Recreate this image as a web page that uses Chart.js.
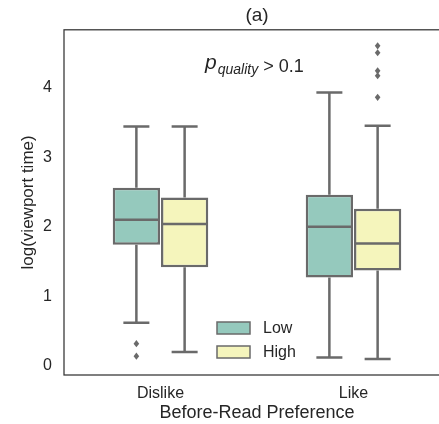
<!DOCTYPE html>
<html>
<head>
<meta charset="utf-8">
<script src="https://cdn.jsdelivr.net/npm/chart.js@4.4.0/dist/chart.umd.min.js"></script>
<style>
  html, body { margin: 0; padding: 0; overflow: hidden; background: #fff; }
  canvas { display: block; }
</style>
</head>
<body>
<canvas id="chart" width="480" height="424"></canvas>
<script>
const categories = ["Dislike", "Like"];
const groups = ["Low", "High"];
const groupColors = ["#95c9bd", "#f5f5bc"];
const edgeColor = "#6a6a6a";
const textColor = "#262626";

// box stats per category (Dislike, Like)
const lowQ1 = [1.74, 1.27];
const lowMedian = [2.10, 2.00];
const lowQ3 = [2.56, 2.46];
const lowWhiskerLow = [0.62, 0.12];
const lowWhiskerHigh = [3.44, 3.93];
const lowOutliers = [[0.32, 0.14], []];

const highQ1 = [1.42, 1.37];
const highMedian = [2.04, 1.76];
const highQ3 = [2.42, 2.26];
const highWhiskerLow = [0.20, 0.10];
const highWhiskerHigh = [3.44, 3.45];
const highOutliers = [[], [4.60, 4.50, 4.24, 4.17, 3.86]];

const yTicks = [0, 1, 2, 3, 4];
const yMin = -0.13;
const yMax = 4.83;

Chart.defaults.font.family = "'Liberation Sans', Arial, sans-serif";

const stats = [
  { q1: lowQ1, med: lowMedian, q3: lowQ3, wlo: lowWhiskerLow, whi: lowWhiskerHigh, out: lowOutliers },
  { q1: highQ1, med: highMedian, q3: highQ3, wlo: highWhiskerLow, whi: highWhiskerHigh, out: highOutliers },
];

const boxExtras = {
  id: "boxExtras",
  afterDatasetsDraw(chart) {
    const ctx = chart.ctx;
    const y = chart.scales.y;
    ctx.save();
    ctx.strokeStyle = edgeColor;
    ctx.fillStyle = edgeColor;
    ctx.lineWidth = 2.5;
    stats.forEach((s, di) => {
      const meta = chart.getDatasetMeta(di);
      meta.data.forEach((bar, i) => {
        const x = bar.x;
        const w = bar.width;
        const cap = w * 0.55;
        ctx.beginPath();
        // whiskers
        ctx.moveTo(x, y.getPixelForValue(s.q3[i]));
        ctx.lineTo(x, y.getPixelForValue(s.whi[i]));
        ctx.moveTo(x, y.getPixelForValue(s.q1[i]));
        ctx.lineTo(x, y.getPixelForValue(s.wlo[i]));
        // caps
        ctx.moveTo(x - cap / 2, y.getPixelForValue(s.whi[i]));
        ctx.lineTo(x + cap / 2, y.getPixelForValue(s.whi[i]));
        ctx.moveTo(x - cap / 2, y.getPixelForValue(s.wlo[i]));
        ctx.lineTo(x + cap / 2, y.getPixelForValue(s.wlo[i]));
        // median
        ctx.moveTo(x - w / 2 + 1, y.getPixelForValue(s.med[i]));
        ctx.lineTo(x + w / 2 - 1, y.getPixelForValue(s.med[i]));
        ctx.stroke();
        // fliers (thin diamonds)
        s.out[i].forEach(v => {
          const py = y.getPixelForValue(v);
          ctx.beginPath();
          ctx.moveTo(x, py - 3.6);
          ctx.lineTo(x + 2.8, py);
          ctx.lineTo(x, py + 3.6);
          ctx.lineTo(x - 2.8, py);
          ctx.closePath();
          ctx.fill();
        });
      });
    });
    ctx.restore();
  },
  afterDraw(chart) {
    const ctx = chart.ctx;
    const a = chart.chartArea;
    ctx.save();
    // frame
    ctx.strokeStyle = "#333";
    ctx.lineWidth = 1.25;
    ctx.strokeRect(a.left, a.top, a.right - a.left, a.bottom - a.top);

    // annotation
    ctx.fillStyle = textColor;
    ctx.textBaseline = "alphabetic";
    let tx = 205;
    ctx.font = "italic 21px 'Liberation Sans', Arial, sans-serif";
    ctx.fillText("p", tx, 69);
    tx += ctx.measureText("p").width + 1;
    ctx.font = "italic 14px 'Liberation Sans', Arial, sans-serif";
    ctx.fillText("quality", tx, 74);
    tx += ctx.measureText("quality").width + 5;
    ctx.font = "18px 'Liberation Sans', Arial, sans-serif";
    ctx.fillText("> 0.1", tx, 72);

    // legend
    const items = [{ label: groups[0], color: groupColors[0], y: 322 }, { label: groups[1], color: groupColors[1], y: 346 }];
    ctx.font = "16px 'Liberation Sans', Arial, sans-serif";
    ctx.textBaseline = "middle";
    items.forEach(it => {
      ctx.fillStyle = it.color;
      ctx.fillRect(217, it.y, 33, 12);
      ctx.strokeStyle = edgeColor;
      ctx.lineWidth = 1.5;
      ctx.strokeRect(217, it.y, 33, 12);
      ctx.fillStyle = textColor;
      ctx.fillText(it.label, 263, it.y + 6.5);
    });
    ctx.restore();
  },
};

new Chart(document.getElementById("chart"), {
  type: "bar",
  plugins: [boxExtras],
  data: {
    labels: categories,
    datasets: groups.map((g, di) => ({
      label: g,
      data: categories.map((c, i) => [stats[di].q1[i], stats[di].q3[i]]),
      backgroundColor: groupColors[di],
      borderColor: edgeColor,
      borderWidth: 2.5,
      borderSkipped: false,
      categoryPercentage: 0.5,
      barPercentage: 0.98,
    })),
  },
  options: {
    responsive: false,
    animation: false,
    layout: { padding: { right: 30 } },
    plugins: {
      legend: { display: false },
      tooltip: { enabled: false },
      title: {
        display: true,
        text: "(a)",
        fullSize: false,
        color: textColor,
        font: { size: 19, weight: "normal" },
        padding: { top: 4, bottom: 3 },
      },
    },
    scales: {
      x: {
        grid: { display: false, drawTicks: false },
        border: { display: false },
        ticks: { color: textColor, font: { size: 16 }, padding: 9 },
        title: {
          display: true,
          text: "Before-Read Preference",
          color: textColor,
          font: { size: 18 },
          padding: { top: 0, bottom: 0 },
        },
        afterFit: s => { s.height = 49; },
      },
      y: {
        min: yMin,
        max: yMax,
        grid: { display: false, drawTicks: false },
        border: { display: false },
        ticks: { color: textColor, font: { size: 16 }, padding: 12 },
        afterBuildTicks: s => { s.ticks = yTicks.map(v => ({ value: v })); },
        title: {
          display: true,
          text: "log(viewport time)",
          color: textColor,
          font: { size: 17 },
          padding: { top: 18, bottom: 0 },
        },
        afterFit: s => { s.width = 64; },
      },
    },
  },
});
</script>
</body>
</html>
